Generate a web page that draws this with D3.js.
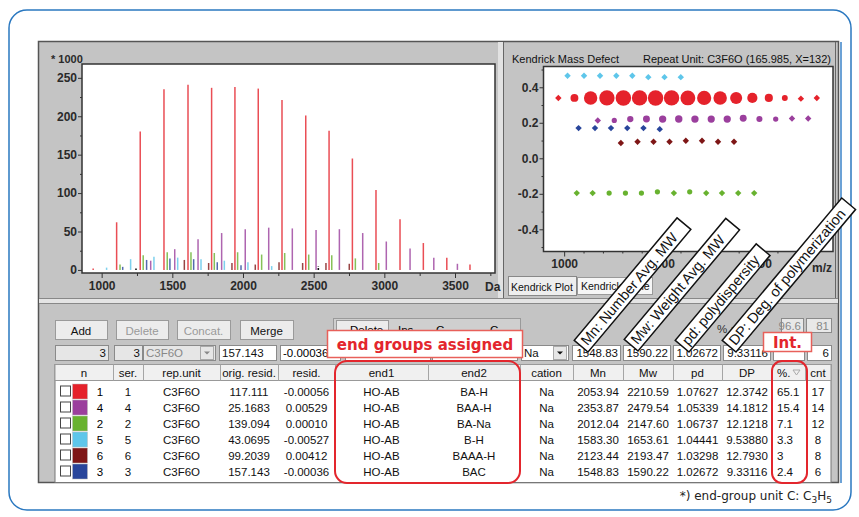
<!DOCTYPE html>
<html>
<head>
<meta charset="utf-8">
<script src="https://cdn.jsdelivr.net/npm/d3@7/dist/d3.min.js"></script>
<style>
  body { margin: 0; background: #fff; }
  svg { display: block; }
  text { font-family: "Liberation Sans", Arial, sans-serif; }
</style>
</head>
<body>
<svg id="chart"></svg>
<script>
// peak series (mass in Da, intensity in *1000, Kendrick mass defect)
const massS1 = [940, 1106, 1273, 1441, 1611, 1778, 1943, 2108, 2276, 2444, 2609, 2774, 2941, 3111, 3276, 3442, 3606];
const intS1 = [2, 62, 180, 235, 241, 237, 238, 236, 221, 201, 181, 145, 104, 66, 35, 16, 7];
const kmdS1 = [0.34, 0.34, 0.34, 0.34, 0.34, 0.34, 0.34, 0.34, 0.34, 0.34, 0.34, 0.34, 0.34, 0.34, 0.34, 0.336, 0.34];

const massS4 = [1347, 1517, 1682, 1849, 2016, 2182, 2349, 2517, 2682, 2847, 3014, 3182, 3350, 3517];
const intS4 = [12, 27, 40, 48, 53, 55, 54, 52, 53, 48, 37, 28, 16, 8];
const kmdS4 = [0.213, 0.213, 0.221, 0.221, 0.221, 0.221, 0.221, 0.221, 0.221, 0.226, 0.221, 0.221, 0.224, 0.224];

const massS2 = [1130, 1294, 1464, 1632, 1797, 1962, 2132, 2295, 2465, 2628, 2795, 2960];
const intS2 = [7, 19, 23, 23, 22, 23, 20, 22, 20, 19, 15, 9];
const kmdS2 = [-0.196, -0.196, -0.196, -0.196, -0.196, -0.189, -0.196, -0.189, -0.196, -0.196, -0.196, -0.196];

const massS5 = [1035, 1205, 1370, 1538, 1703, 1868, 2035, 2203];
const intS5 = [3, 14, 17, 16, 14, 12, 10, 5];
const kmdS5 = [0.465, 0.465, 0.465, 0.465, 0.465, 0.457, 0.457, 0.457];

const massS6 = [1585, 1757, 1922, 2087, 2255, 2422, 2587, 2752];
const intS6 = [13, 9, 9, 7, 10, 9, 9, 8];
const kmdS6 = [0.086, 0.093, 0.093, 0.093, 0.099, 0.099, 0.093, 0.093];

const massS3 = [1149, 1318, 1483, 1651, 1818, 1986];
const intS3 = [4, 13, 15, 14, 10, 6];
const kmdS3 = [0.17, 0.17, 0.17, 0.17, 0.17, 0.164];

const noiseMass = [1243, 2533];
const noiseInt = [2, 5];

const seriesColors = ['#e5222b', '#9b3f9d', '#68b22f', '#5ec6ea', '#7e1616', '#28459b'];

// table
const colHeaders = ['n', 'ser.', 'rep.unit', 'orig. resid.', 'resid.', 'end1', 'end2', 'cation', 'Mn', 'Mw', 'pd', 'DP', '%.', 'cnt'];
const rowN = ['1', '4', '2', '5', '6', '3'];
const repUnit = ['C3F6O', 'C3F6O', 'C3F6O', 'C3F6O', 'C3F6O', 'C3F6O'];
const origResid = ['117.111', '25.1683', '139.094', '43.0695', '99.2039', '157.143'];
const resid = ['-0.00056', '0.00529', '0.00010', '-0.00527', '0.00412', '-0.00036'];
const end1 = ['HO-AB', 'HO-AB', 'HO-AB', 'HO-AB', 'HO-AB', 'HO-AB'];
const end2 = ['BA-H', 'BAA-H', 'BA-Na', 'B-H', 'BAAA-H', 'BAC'];
const cation = ['Na', 'Na', 'Na', 'Na', 'Na', 'Na'];
const mnVals = ['2053.94', '2353.87', '2012.04', '1583.30', '2123.44', '1548.83'];
const mwVals = ['2210.59', '2479.54', '2147.60', '1653.61', '2193.47', '1590.22'];
const pdVals = ['1.07627', '1.05339', '1.06737', '1.04441', '1.03298', '1.02672'];
const dpVals = ['12.3742', '14.1812', '12.1218', '9.53880', '12.7930', '9.33116'];
const pctVals = ['65.1', '15.4', '7.1', '3.3', '3', '2.4'];
const cntVals = ['17', '14', '12', '8', '8', '6'];

const calloutLabels = ['Mn: Number Avg. MW', 'Mw: Weight Avg. MW', 'pd: polydispersity', 'DP: Deg. of polymerization'];

const series = [
  { mass: massS1, int: intS1, kmd: kmdS1 },
  { mass: massS4, int: intS4, kmd: kmdS4 },
  { mass: massS2, int: intS2, kmd: kmdS2 },
  { mass: massS5, int: intS5, kmd: kmdS5 },
  { mass: massS6, int: intS6, kmd: kmdS6 },
  { mass: massS3, int: intS3, kmd: kmdS3 }
].map((s, i) => ({
  color: seriesColors[i],
  peaks: s.mass.map((m, j) => ({ mass: m, int: s.int[j], kmd: s.kmd[j] }))
}));

const width = 859;
const height = 517;
const gray = '#c4c4c4';

const svg = d3.select('#chart')
  .attr('width', width)
  .attr('height', height);

const defs = svg.append('defs');
defs.append('clipPath').attr('id', 'clipTop').append('rect')
  .attr('x', 0).attr('y', 0).attr('width', width).attr('height', 330);
defs.append('clipPath').attr('id', 'clipAssigned').append('rect')
  .attr('x', 0).attr('y', 0).attr('width', 752).attr('height', height);

// outer rounded frame
svg.append('rect')
  .attr('x', 9).attr('y', 10).attr('width', 842).attr('height', 500).attr('rx', 18)
  .attr('fill', 'none').attr('stroke', '#2a78c0').attr('stroke-width', 1.5);

// application window
svg.append('rect')
  .attr('x', 38.5).attr('y', 41.5).attr('width', 800).attr('height', 441)
  .attr('fill', gray).attr('stroke', '#555').attr('stroke-width', 1.5);
svg.append('line').attr('x1', 841).attr('x2', 841).attr('y1', 42).attr('y2', 483)
  .attr('stroke', '#3b83c9').attr('stroke-width', 1.5);
// vertical splitter between the plots
svg.append('rect').attr('x', 498).attr('y', 42).attr('width', 6).attr('height', 257).attr('fill', '#e2e2e2');
svg.append('line').attr('x1', 503.5).attr('x2', 503.5).attr('y1', 42).attr('y2', 299).attr('stroke', '#666');
svg.append('line').attr('x1', 835.5).attr('x2', 835.5).attr('y1', 42).attr('y2', 299).attr('stroke', '#666');
// horizontal splitter
svg.append('rect').attr('x', 39).attr('y', 298).attr('width', 799).attr('height', 6).attr('fill', '#e4e4e4');
svg.append('line').attr('x1', 39).attr('x2', 838).attr('y1', 298.5).attr('y2', 298.5).attr('stroke', '#888');
svg.append('line').attr('x1', 39).attr('x2', 838).attr('y1', 303.5).attr('y2', 303.5).attr('stroke', '#888');

// ---------- spectrum ----------
const sx = d3.scaleLinear().domain([861, 3783]).range([82, 495]);
const sy = d3.scaleLinear().domain([-4, 268]).range([273, 64]);

svg.append('rect').attr('x', 82).attr('y', 64).attr('width', 413).attr('height', 209).attr('fill', '#fff');

series.forEach(s => {
  svg.append('g').selectAll('line')
    .data(s.peaks)
    .enter()
    .append('line')
    .attr('x1', d => sx(d.mass)).attr('x2', d => sx(d.mass))
    .attr('y1', sy(0)).attr('y2', d => sy(d.int))
    .attr('stroke', s.color).attr('stroke-width', 1.5).attr('opacity', 0.8);
});
svg.append('g').selectAll('line')
  .data(noiseMass)
  .enter()
  .append('line')
  .attr('x1', d => sx(d)).attr('x2', d => sx(d))
  .attr('y1', sy(0)).attr('y2', (d, i) => sy(noiseInt[i]))
  .attr('stroke', '#111').attr('stroke-width', 1.6).attr('stroke-dasharray', '2,1.5');

const styleAxis = g => {
  g.select('.domain').remove();
  g.selectAll('line').attr('stroke', '#333');
  g.selectAll('text').attr('fill', '#2a2a2a').style('font-size', '12px').style('font-weight', 'bold');
};

svg.append('g').attr('transform', 'translate(82,0)')
  .call(d3.axisLeft(sy).tickValues(d3.range(0, 251, 50)).tickSize(4).tickPadding(1))
  .call(styleAxis);
svg.append('g').attr('transform', 'translate(82,0)')
  .call(d3.axisLeft(sy).tickValues(d3.range(25, 251, 50)).tickSize(2).tickFormat(''))
  .call(styleAxis);
svg.append('g').attr('transform', 'translate(0,273)')
  .call(d3.axisBottom(sx).tickValues(d3.range(1000, 3501, 500)).tickSize(5).tickPadding(3).tickFormat(d3.format('d')))
  .call(styleAxis);
svg.append('g').attr('transform', 'translate(0,273)')
  .call(d3.axisBottom(sx).tickValues([1250, 1750, 2250, 2750, 3250, 3750]).tickSize(3).tickFormat(''))
  .call(styleAxis);

svg.append('rect').attr('x', 82).attr('y', 64).attr('width', 413).attr('height', 209)
  .attr('fill', 'none').attr('stroke', '#333').attr('stroke-width', 1.5);
svg.append('text').attr('x', 51).attr('y', 63).text('* 1000')
  .style('font-size', '11px').style('font-weight', 'bold').attr('fill', '#2a2a2a');
svg.append('text').attr('x', 485).attr('y', 291).text('Da')
  .style('font-size', '12px').style('font-weight', 'bold').attr('fill', '#2a2a2a');

// ---------- Kendrick plot ----------
const kx = d3.scaleLinear().domain([787, 3773]).range([543.5, 833]);
const ky = d3.scaleLinear().domain([-0.525, 0.517]).range([251.5, 66.5]);

svg.append('text').attr('x', 512).attr('y', 63).text('Kendrick Mass Defect')
  .style('font-size', '11px').attr('fill', '#111');
svg.append('text').attr('x', 831).attr('y', 63).attr('text-anchor', 'end')
  .text('Repeat Unit: C3F6O (165.985, X=132)')
  .style('font-size', '11px').attr('fill', '#111');

svg.append('rect').attr('x', 543.5).attr('y', 66.5).attr('width', 289.5).attr('height', 185).attr('fill', '#fff');

series.forEach(s => {
  const g = svg.append('g').attr('fill', s.color);
  s.peaks.forEach(p => {
    if (p.int >= 22) {
      g.append('circle').attr('cx', kx(p.mass)).attr('cy', ky(p.kmd))
        .attr('r', Math.max(2.6, 0.5 * Math.sqrt(p.int)));
    } else {
      const r = 3.2;
      g.append('path')
        .attr('transform', `translate(${kx(p.mass)},${ky(p.kmd)})`)
        .attr('d', `M0,${-r}L${r},0L0,${r}L${-r},0Z`);
    }
  });
});

svg.append('g').attr('transform', 'translate(543.5,0)')
  .call(d3.axisLeft(ky).tickValues([-0.4, -0.2, 0, 0.2, 0.4]).tickSize(4).tickPadding(1).tickFormat(d => d.toFixed(1)))
  .call(styleAxis);
svg.append('g').attr('transform', 'translate(543.5,0)')
  .call(d3.axisLeft(ky).tickValues([-0.5, -0.3, -0.1, 0.1, 0.3, 0.5]).tickSize(2).tickFormat(''))
  .call(styleAxis);
svg.append('g').attr('transform', 'translate(0,251.5)')
  .call(d3.axisBottom(kx).tickValues([1000, 2000, 3000]).tickSize(5).tickPadding(3).tickFormat(d3.format('d')))
  .call(styleAxis);
svg.append('g').attr('transform', 'translate(0,251.5)')
  .call(d3.axisBottom(kx).tickValues(d3.range(1200, 3700, 200).filter(v => v % 1000)).tickSize(2).tickFormat(''))
  .call(styleAxis);
svg.append('rect').attr('x', 543.5).attr('y', 66.5).attr('width', 289.5).attr('height', 185)
  .attr('fill', 'none').attr('stroke', '#333').attr('stroke-width', 1.5);
svg.append('text').attr('x', 832).attr('y', 272).attr('text-anchor', 'end').text('m/z')
  .style('font-size', '12px').style('font-weight', 'bold').attr('fill', '#2a2a2a');

// tabs
svg.append('rect').attr('x', 577.5).attr('y', 277.5).attr('width', 75).attr('height', 17)
  .attr('fill', '#f6f6f6').attr('stroke', '#999');
svg.append('text').attr('x', 581).attr('y', 290).text('Kendrick Table').style('font-size', '10.5px').attr('fill', '#111');
svg.append('rect').attr('x', 508.5).attr('y', 276.5).attr('width', 68).attr('height', 19)
  .attr('fill', '#eeeeee').attr('stroke', '#888');
svg.append('text').attr('x', 511).attr('y', 291).text('Kendrick Plot').style('font-size', '10.5px').attr('fill', '#111');

// ---------- controls ----------
const button = (x, w, label, disabled) => {
  svg.append('rect').attr('x', x + 0.5).attr('y', 320.5).attr('width', w).attr('height', 19)
    .attr('fill', '#ececec').attr('stroke', '#9a9a9a');
  svg.append('text').attr('x', x + w / 2).attr('y', 334.5).attr('text-anchor', 'middle').text(label)
    .style('font-size', '11.5px').attr('fill', disabled ? '#9a9a9a' : '#111');
};
button(55, 52, 'Add', false);
button(116, 52, 'Delete', true);
button(177, 53, 'Concat.', true);
button(240, 53, 'Merge', false);

// group box mostly hidden by the callout, only the top edge of its captions shows
svg.append('rect').attr('x', 333.5).attr('y', 318.5).attr('width', 187).attr('height', 27)
  .attr('fill', '#cfcfcf').attr('stroke', '#9a9a9a');
svg.append('rect').attr('x', 336.5).attr('y', 320.5).attr('width', 52).attr('height', 22)
  .attr('fill', '#ececec').attr('stroke', '#9a9a9a');
const grp = svg.append('g').attr('clip-path', 'url(#clipTop)');
grp.append('text').attr('x', 350).attr('y', 334).text('Delete').style('font-size', '11.5px');
grp.append('text').attr('x', 398).attr('y', 334).text('Ins').style('font-size', '11.5px');
grp.append('text').attr('x', 436).attr('y', 334).text('C').style('font-size', '11.5px');
grp.append('text').attr('x', 490).attr('y', 334).text('C').style('font-size', '11.5px');

svg.append('g').attr('clip-path', 'url(#clipAssigned)')
  .append('text').attr('x', 717).attr('y', 333).text('% assigned').style('font-size', '11.5px').attr('fill', '#333');

const inputBox = (x, w, y, h, label, anchor, fill, color) => {
  svg.append('rect').attr('x', x + 0.5).attr('y', y + 0.5).attr('width', w).attr('height', h)
    .attr('fill', fill).attr('stroke', '#8a8a8a');
  if (label === null) return;
  svg.append('text')
    .attr('x', anchor === 'end' ? x + w - 2 : x + 3)
    .attr('y', y + h / 2 + 4.5)
    .attr('text-anchor', anchor).text(label)
    .style('font-size', '11.5px').attr('fill', color || '#111');
};
inputBox(781, 22, 318, 14, '96.6', 'end', '#e8e8e8', '#888');
inputBox(806, 25, 318, 14, '81', 'end', '#e8e8e8', '#888');

// edit row, showing the selected (last) row
const sel = 5;
inputBox(55, 53, 345, 15, rowN[sel], 'end', '#e6e6e6');
inputBox(114, 28, 345, 15, rowN[sel], 'end', '#e6e6e6');
inputBox(143, 72, 345, 15, repUnit[sel], 'start', '#e6e6e6', '#888');
svg.append('rect').attr('x', 200.5).attr('y', 346.5).attr('width', 13).attr('height', 13).attr('fill', '#e6e6e6').attr('stroke', '#aaa');
svg.append('path').attr('d', 'M204,351.5h6l-3,3z').attr('fill', '#888');
inputBox(219, 57, 345, 15, origResid[sel], 'start', '#fff');
inputBox(280, 60, 345, 15, null, 'start', '#fff');
svg.append('text').attr('x', 283).attr('y', 357).text(resid[sel]).style('font-size', '11.5px');
inputBox(345, 85, 345, 15, null, 'start', '#fff');
inputBox(432, 85, 345, 15, null, 'start', '#fff');
inputBox(521, 47, 345, 15, cation[sel], 'start', '#fff');
svg.append('rect').attr('x', 553.5).attr('y', 346.5).attr('width', 13).attr('height', 13).attr('fill', '#e6e6e6').attr('stroke', '#aaa');
svg.append('path').attr('d', 'M557,351.5h6l-3,3z').attr('fill', '#111');
inputBox(572, 48, 345, 15, mnVals[sel], 'end', '#fff');
inputBox(623, 47, 345, 15, mwVals[sel], 'end', '#fff');
inputBox(673, 47, 345, 15, pdVals[sel], 'end', '#fff');
inputBox(723, 47, 345, 15, dpVals[sel], 'end', '#fff');
inputBox(773, 31, 345, 15, null, 'end', '#fff');
inputBox(807, 24, 345, 15, cntVals[sel], 'end', '#fff');

// ---------- table ----------
const colEdges = [55, 113, 143, 220, 278, 335, 428, 520, 573, 623, 673, 722, 772, 805, 831];
const tableTop = 364.5;
const headerH = 16;
const rowH = 16;

svg.append('rect').attr('x', 55).attr('y', tableTop).attr('width', 776).attr('height', 118)
  .attr('fill', '#fff').attr('stroke', '#777');
svg.append('rect').attr('x', 55).attr('y', tableTop).attr('width', 776).attr('height', headerH)
  .attr('fill', '#f0f0f0').attr('stroke', '#999');
colEdges.slice(1, -1).forEach(x => {
  svg.append('line').attr('x1', x + 0.5).attr('x2', x + 0.5)
    .attr('y1', tableTop).attr('y2', tableTop + headerH).attr('stroke', '#a5a5a5');
});
colHeaders.forEach((h, i) => {
  const cx = (colEdges[i] + colEdges[i + 1]) / 2;
  svg.append('text').attr('x', h === '%.' ? colEdges[i] + 5 : cx).attr('y', tableTop + 12)
    .attr('text-anchor', h === '%.' ? 'start' : 'middle').text(h)
    .style('font-size', '11.5px').attr('fill', '#111');
});
svg.append('path').attr('d', 'M793,370h7l-3.5,5z').attr('fill', 'none').attr('stroke', '#aaa');

const columns = [null, rowN, repUnit, origResid, resid, end1, end2, cation, mnVals, mwVals, pdVals, dpVals, pctVals, cntVals];
rowN.forEach((n, r) => {
  const cy = tableTop + headerH + 11 + r * rowH;
  svg.append('rect').attr('x', 60.5).attr('y', cy - 5.5).attr('width', 10).attr('height', 10)
    .attr('fill', '#fff').attr('stroke', '#444');
  svg.append('rect').attr('x', 72.5).attr('y', cy - 7.5).attr('width', 15).attr('height', 15)
    .attr('fill', seriesColors[r]).attr('stroke', '#bbb').attr('stroke-width', 0.5);
  svg.append('text').attr('x', 100).attr('y', cy + 4.5).attr('text-anchor', 'middle').text(n)
    .style('font-size', '11.5px');
  columns.forEach((col, i) => {
    if (!col) return;
    const isPct = i === 12;
    svg.append('text')
      .attr('x', isPct ? colEdges[i] + 5 : (colEdges[i] + colEdges[i + 1]) / 2)
      .attr('y', cy + 4.5)
      .attr('text-anchor', isPct ? 'start' : 'middle')
      .text(col[r])
      .style('font-size', '11.5px').attr('fill', '#111');
  });
});

// ---------- annotations ----------
const red = '#e3262d';
svg.append('rect').attr('x', 335).attr('y', 361).attr('width', 185).attr('height', 122).attr('rx', 12)
  .attr('fill', 'none').attr('stroke', red).attr('stroke-width', 2);
svg.append('rect').attr('x', 772).attr('y', 361).attr('width', 35).attr('height', 122).attr('rx', 10)
  .attr('fill', 'none').attr('stroke', red).attr('stroke-width', 2);

svg.append('rect').attr('x', 327.5).attr('y', 330.5).attr('width', 195).attr('height', 27)
  .attr('fill', '#fff').attr('stroke', '#e8605a').attr('stroke-width', 1.5);
svg.append('text').attr('x', 425).attr('y', 349.5).attr('text-anchor', 'middle').text('end groups assigned')
  .style('font-family', '"DejaVu Sans", Verdana, sans-serif').style('font-weight', 'bold').style('font-size', '15px')
  .attr('fill', red);
svg.append('rect').attr('x', 763.5).attr('y', 332.5).attr('width', 48).attr('height', 19)
  .attr('fill', '#fff').attr('stroke', '#e8605a').attr('stroke-width', 1.5);
svg.append('text').attr('x', 787.5).attr('y', 347.5).attr('text-anchor', 'middle').text('Int.')
  .style('font-family', '"DejaVu Sans", Verdana, sans-serif').style('font-weight', 'bold').style('font-size', '15px')
  .attr('fill', red);

// slanted definition labels
const labelAnchors = [[588, 352], [638, 351], [689, 352], [736, 352]];
const labelLengths = [160, 158, 126, 186];
calloutLabels.forEach((t, i) => {
  const g = svg.append('g')
    .attr('transform', `translate(${labelAnchors[i][0]},${labelAnchors[i][1]}) rotate(-50)`);
  g.append('rect').attr('x', 0).attr('y', -18).attr('width', labelLengths[i]).attr('height', 18)
    .attr('fill', '#fff').attr('stroke', '#111').attr('stroke-width', 1.5);
  g.append('text').attr('x', 4).attr('y', -4).text(t)
    .style('font-size', '14.5px').attr('fill', '#111');
});

// footnote
const foot = svg.append('text').attr('x', 832).attr('y', 500).attr('text-anchor', 'end')
  .style('font-family', '"DejaVu Sans", Verdana, sans-serif').style('font-size', '12px').attr('fill', '#222');
foot.append('tspan').text('*) end-group unit C: C');
foot.append('tspan').attr('dy', 3).style('font-size', '9px').text('3');
foot.append('tspan').attr('dy', -3).text('H');
foot.append('tspan').attr('dy', 3).style('font-size', '9px').text('5');
</script>
</body>
</html>
